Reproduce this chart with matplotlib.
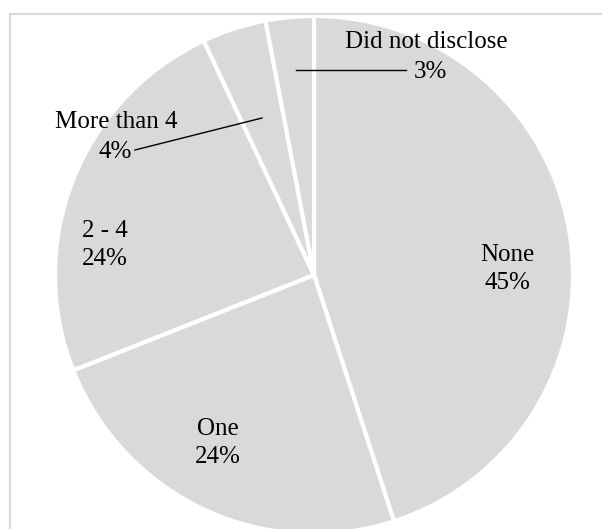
import matplotlib.pyplot as plt
from matplotlib.lines import Line2D

# Share of respondents by count
categories = ['None', 'One', '2 - 4', 'More than 4', 'Did not disclose']
shares = [45, 24, 24, 4, 3]

plt.rcParams['font.family'] = ['Liberation Serif', 'DejaVu Serif']

W, H = 602, 529
fig = plt.figure(figsize=(W / 100, H / 100), dpi=100)
ax = fig.add_axes([0, 0, 1, 1])

# y axis is inverted below, so counterclock=True sweeps clockwise on screen
wedges, _ = ax.pie(shares, center=(314, 275), radius=259, startangle=-90,
                   counterclock=True, colors=['#d9d9d9'] * len(shares),
                   wedgeprops=dict(edgecolor='white', linewidth=3),
                   frame=True)
ax.set_xlim(0, W)
ax.set_ylim(H, 0)  # pixel-style coordinates, y down
ax.set_aspect('equal')
ax.axis('off')

# chart area border (right and bottom edges fall outside the canvas)
border = '#d9d9d9'
ax.add_line(Line2D([10, W + 5], [14, 14], color=border, lw=1.5))
ax.add_line(Line2D([10, 10], [14, H + 5], color=border, lw=1.5))

fs = 18
label_pos = {
    'None': (507, 269),
    'One': (218, 443),
    '2 - 4': (105, 245),
}
for cat, val in zip(categories, shares):
    if cat in label_pos:
        x, y = label_pos[cat]
        ax.text(x, y, f'{cat}\n{val}%', ha='center', va='center', fontsize=fs,
                linespacing=1.4)

# outside labels with leader lines
ax.text(426, 42, categories[4], ha='center', va='center', fontsize=fs)
ax.text(430, 72, f'{shares[4]}%', ha='center', va='center', fontsize=fs)
ax.add_line(Line2D([296, 406], [70, 70], color='black', lw=1))

ax.text(116, 122, categories[3], ha='center', va='center', fontsize=fs)
ax.text(115, 152, f'{shares[3]}%', ha='center', va='center', fontsize=fs)
ax.add_line(Line2D([135, 262], [150, 118], color='black', lw=1))

fig.savefig('out.png', dpi=100, facecolor='white')
